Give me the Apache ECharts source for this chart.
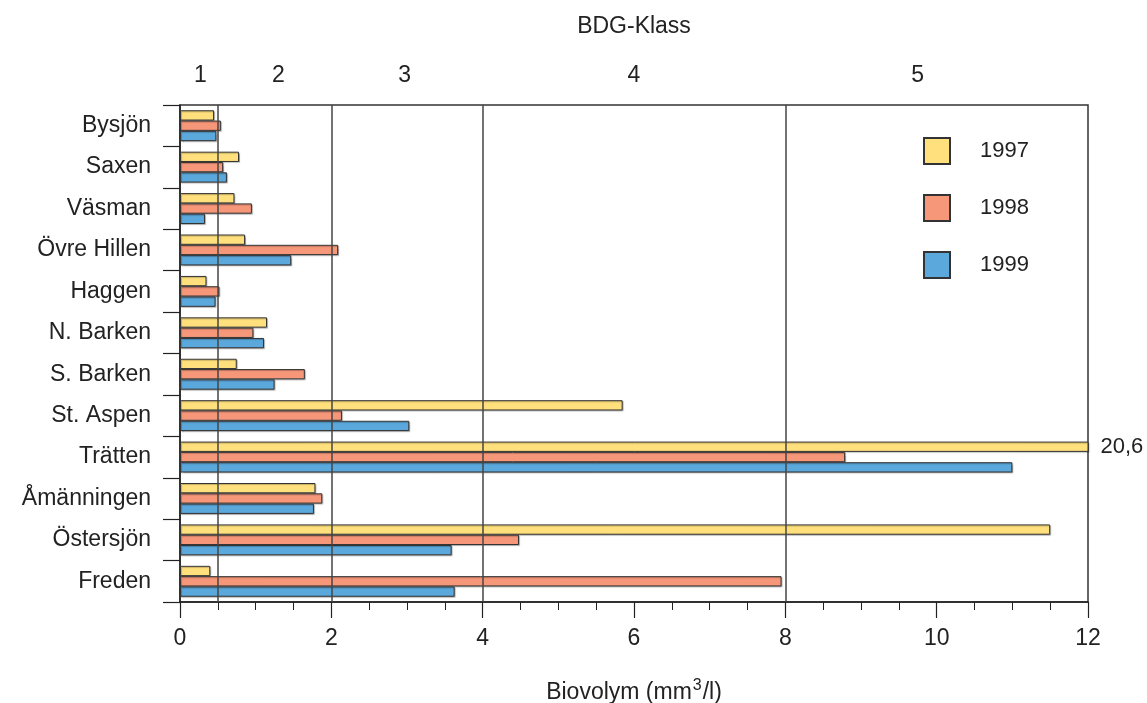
<!DOCTYPE html>
<html>
<head>
<meta charset="utf-8">
<title>Biovolym per sjö</title>
<script src="https://cdn.jsdelivr.net/npm/echarts@6/dist/echarts.min.js"></script>
<style>
  html, body { margin: 0; padding: 0; background: #fff; }
  #chart { width: 1147px; height: 703px; }
</style>
</head>
<body>
<div id="chart"></div>
<script>
// Sjöar, uppifrån och ned
const lakes = ['Bysjön', 'Saxen', 'Väsman', 'Övre Hillen', 'Haggen', 'N. Barken',
  'S. Barken', 'St. Aspen', 'Trätten', 'Åmänningen', 'Östersjön', 'Freden'];

const years = ['1997', '1998', '1999'];

// Biovolym (mm3/l)
const values1997 = [0.45, 0.78, 0.72, 0.86, 0.35, 1.15, 0.75, 5.85, 20.6, 1.79, 11.5, 0.40];
const values1998 = [0.54, 0.57, 0.95, 2.09, 0.52, 0.97, 1.65, 2.14, 8.79, 1.88, 4.48, 7.95];
const values1999 = [0.48, 0.62, 0.33, 1.47, 0.47, 1.11, 1.25, 3.03, 11.0, 1.77, 3.59, 3.63];

// BDG-klassgränser och var klassnumren står
const classBounds = [0.5, 2, 4, 8];
const classNames = ['1', '2', '3', '4', '5'];
const classLabelPos = [0.27, 1.3, 2.97, 6, 9.75];

const axisMax = 12;
const colors = ['#FFE07D', '#F7977A', '#5BA8DC'];
const font = "'Liberation Sans', Arial, sans-serif";
const ink = '#222';

const fmt = v => String(v).replace('.', ',');

// Värden över skalans maximum kapas vid kanten och får sitt värde utskrivet
function barData(arr) {
  return arr.map(v => v > axisMax
    ? { value: v, label: { show: true, position: 'right', distance: 12,
        formatter: () => fmt(v), fontSize: 22, color: ink, fontFamily: font } }
    : v);
}

const seriesValues = [values1997, values1998, values1999];

const series = years.map((y, i) => ({
  name: y,
  type: 'bar',
  data: barData(seriesValues[i]),
  xAxisIndex: 0,
  barWidth: 10.3,
  barGap: '0%',
  itemStyle: {
    color: colors[i],
    borderColor: '#333',
    borderWidth: 1,
    shadowColor: 'rgba(0,0,0,0.25)',
    shadowOffsetX: 1,
    shadowOffsetY: 1,
    shadowBlur: 1
  },
  z: 2
}));

// Klassgränser som lodräta linjer över staplarna
series[2].markLine = {
  silent: true,
  symbol: ['none', 'none'],
  label: { show: false },
  lineStyle: { color: '#444', width: 1.5, type: 'solid' },
  data: classBounds.map(b => ({ xAxis: b }))
};

const chart = echarts.init(document.getElementById('chart'));
chart.setOption({
  animation: false,
  textStyle: { fontFamily: font },
  grid: {
    left: 180, top: 105, width: 908, height: 497,
    outerBoundsMode: 'none',
    containLabel: false,
    show: true, borderColor: '#333', borderWidth: 1.5, backgroundColor: 'transparent'
  },
  legend: {
    data: years,
    orient: 'vertical',
    left: 918, top: 132,
    itemWidth: 26, itemHeight: 26, itemGap: 29,
    icon: 'rect',
    textStyle: { fontSize: 22, color: ink, padding: [0, 0, 0, 25], fontFamily: font }
  },
  xAxis: [
    {
      type: 'value',
      position: 'bottom',
      min: 0, max: axisMax, interval: 2,
      axisLine: { show: true, lineStyle: { color: ink, width: 1.5 } },
      axisTick: { show: true, inside: false, length: 16, lineStyle: { color: ink, width: 1.2 } },
      minorTick: { show: true, splitNumber: 4, length: 8, lineStyle: { color: ink, width: 1 } },
      splitLine: { show: false },
      axisLabel: { fontSize: 23, color: ink, margin: 25, fontFamily: font },
      name: '{a|Biovolym (mm}{s|3}{a|/l)}',
      nameLocation: 'middle',
      nameGap: 76,
      nameTextStyle: {
        rich: {
          a: { fontSize: 23, color: ink, fontFamily: font, verticalAlign: 'bottom', lineHeight: 26 },
          s: { fontSize: 16, color: ink, fontFamily: font, verticalAlign: 'top', lineHeight: 26, padding: [0, 1, 14, 1] }
        }
      }
    },
    {
      type: 'value',
      position: 'top',
      min: 0, max: axisMax,
      axisLine: { show: false },
      axisTick: { show: false },
      splitLine: { show: false },
      axisLabel: {
        customValues: classLabelPos,
        formatter: v => {
          const idx = classLabelPos.findIndex(p => Math.abs(p - v) < 1e-6);
          return idx >= 0 ? classNames[idx] : '';
        },
        fontSize: 23, color: ink, margin: 18, fontFamily: font
      },
      name: 'BDG-Klass',
      nameLocation: 'middle',
      nameGap: 67,
      nameTextStyle: { fontSize: 23, color: ink, fontFamily: font }
    }
  ],
  yAxis: {
    type: 'category',
    data: lakes,
    inverse: true,
    axisLine: { show: true, lineStyle: { color: ink, width: 1.5 } },
    axisTick: { show: true, inside: false, length: 17, lineStyle: { color: ink, width: 1.2 } },
    splitLine: { show: false },
    axisLabel: { fontSize: 23, color: ink, margin: 29, fontFamily: font }
  },
  series: series
});
</script>
</body>
</html>
